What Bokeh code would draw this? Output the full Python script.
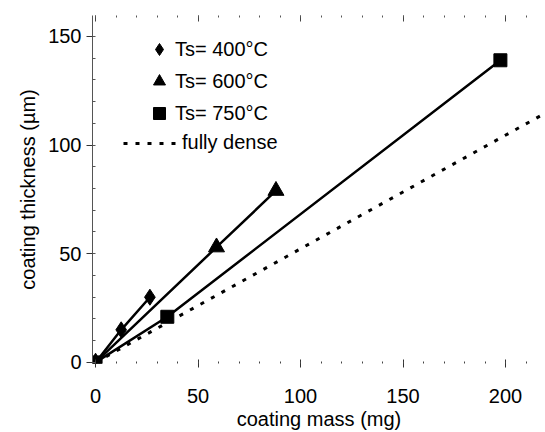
from bokeh.plotting import figure
from bokeh.models import Range1d, LinearAxis, Legend, LegendItem, SingleIntervalTicker
from bokeh.embed import file_html
from bokeh.resources import INLINE

# data
mass_400 = [0, 12.5, 26.5]
thick_400 = [0, 15, 30]
mass_600 = [0, 59, 88]
thick_600 = [0, 53, 79]
mass_750 = [0, 35, 197.5]
thick_750 = [0, 21, 139]
dense_mass = [0, 220]
dense_thick = [0, 115]

labels = ["Ts= 400°C", "Ts= 600°C", "Ts= 750°C", "fully dense"]
x_title = "coating mass (mg)"
y_title = "coating thickness (µm)"

FONT = "Liberation Sans"

p = figure(width=545, height=432,
           x_range=Range1d(-1.5, 219.5), y_range=Range1d(-0.5, 159.6),
           output_backend="svg", toolbar_location=None,
           min_border_left=92, min_border_right=0, min_border_top=15, min_border_bottom=69,
           x_axis_label=x_title, y_axis_label=y_title)
p.grid.visible = False
p.outline_line_color = None
p.background_fill_color = "white"

for ax in (p.xaxis[0], p.yaxis[0]):
    ax.ticker = SingleIntervalTicker(interval=50, num_minor_ticks=5)
    ax.major_label_text_font = FONT
    ax.major_label_text_font_size = "20px"
    ax.major_label_text_color = "black"
    ax.axis_label_text_font = FONT
    ax.axis_label_text_font_size = "20px"
    ax.axis_label_text_font_style = "normal"
    ax.axis_label_text_color = "black"

xa = p.xaxis[0]
xa.axis_line_color = None
xa.major_tick_in = 4
xa.major_tick_out = 4
xa.minor_tick_in = 2
xa.minor_tick_out = 0
xa.major_tick_line_color = "#333333"
xa.minor_tick_line_color = "#444444"
xa.major_label_standoff = 21
xa.axis_label_standoff = 2

ya = p.yaxis[0]
ya.axis_line_color = "#555555"
ya.axis_line_width = 1
ya.major_tick_in = 0
ya.major_tick_out = 6
ya.minor_tick_in = 3
ya.minor_tick_out = 0
ya.major_tick_line_color = "#333333"
ya.minor_tick_line_color = "#555555"
ya.major_label_standoff = 5
ya.axis_label_standoff = 6

top = LinearAxis(ticker=SingleIntervalTicker(interval=50, num_minor_ticks=5),
                 axis_line_color=None, major_label_text_font_size="0px",
                 major_label_text_color=None,
                 major_label_standoff=0, major_tick_in=6, major_tick_out=0,
                 minor_tick_in=2, minor_tick_out=0,
                 major_tick_line_color="#444444", minor_tick_line_color="#555555")
p.add_layout(top, "above")

lw = 2.5
rd = p.line(dense_mass, dense_thick, line_color="black", line_width=3, line_dash="4 8")
p.line(mass_400, thick_400, line_color="black", line_width=lw)
p.line(mass_600, thick_600, line_color="black", line_width=lw)
p.line(mass_750, thick_750, line_color="black", line_width=lw)
r4 = p.scatter(mass_400, thick_400, marker="diamond", size=16, color="black")
r6 = p.scatter(mass_600, thick_600, marker="triangle", size=16, color="black")
r7 = p.scatter(mass_750, thick_750, marker="square", size=13, color="black")

common = dict(padding=0, margin=0, border_line_color=None, background_fill_alpha=0,
              label_text_font=FONT, label_text_font_size="20px", label_text_color="black",
              label_height=20)
leg_m = Legend(items=[LegendItem(label=labels[0], renderers=[r4]),
                      LegendItem(label=labels[1], renderers=[r6]),
                      LegendItem(label=labels[2], renderers=[r7])],
               location=(52, 235), glyph_width=30, glyph_height=30, spacing=2,
               label_standoff=1, **common)
leg_d = Legend(items=[LegendItem(label=labels[3], renderers=[rd])],
               location=(31, 209), glyph_width=57, glyph_height=20,
               label_standoff=2, **common)
p.add_layout(leg_m)
p.add_layout(leg_d)

open("out.html", "w").write(file_html(p, INLINE))
